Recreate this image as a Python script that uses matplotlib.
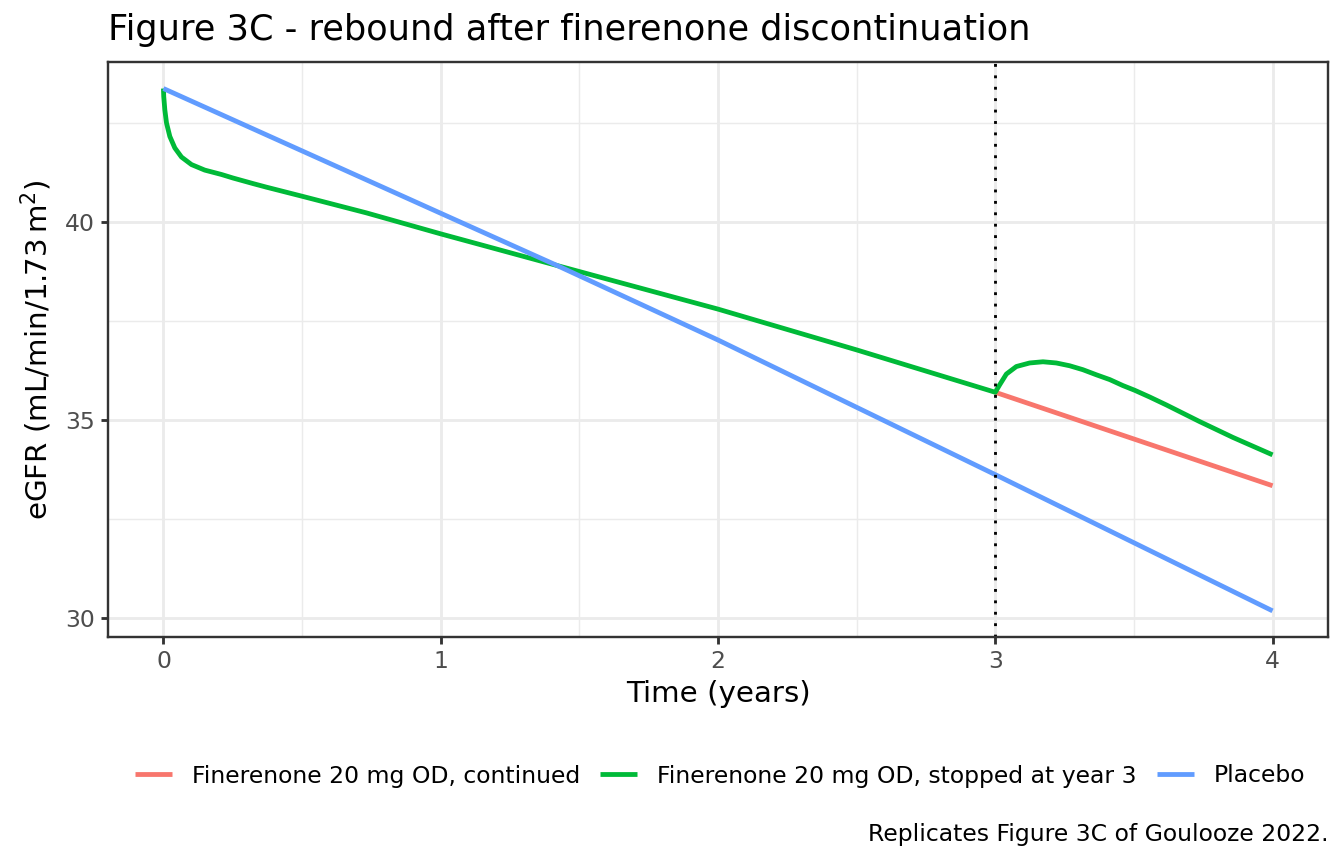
import matplotlib
matplotlib.use("Agg")
import matplotlib.pyplot as plt

# values
time_placebo = [0.0, 1.0, 1.42, 2.0, 3.0, 4.0]
egfr_placebo = [43.37, 40.22, 38.90, 37.02, 33.62, 30.18]

time_stopped = [0.0, 0.001, 0.005, 0.011, 0.023, 0.041, 0.065, 0.101, 0.149, 0.209, 0.251,
                0.323, 0.371, 0.5, 0.732, 1.0, 1.42, 2.0, 2.5, 3.0, 3.016, 3.04, 3.076,
                3.124, 3.172, 3.22, 3.268, 3.316, 3.365, 3.413, 3.46, 3.503, 3.557, 3.617,
                3.737, 3.857, 4.0]
egfr_stopped = [43.37, 43.17, 42.83, 42.50, 42.16, 41.87, 41.64, 41.45, 41.31, 41.20, 41.11,
                40.97, 40.88, 40.65, 40.23, 39.70, 38.90, 37.80, 36.77, 35.70, 35.89, 36.16, 36.35,
                36.44, 36.47, 36.44, 36.37, 36.27, 36.14, 36.02, 35.87, 35.75, 35.58, 35.38,
                34.96, 34.56, 34.12]

time_continued = [3.0, 4.0]
egfr_continued = [35.70, 33.34]

labels = ["Finerenone 20 mg OD, continued",
          "Finerenone 20 mg OD, stopped at year 3",
          "Placebo"]
colors = ["#F8766D", "#00BA38", "#619CFF"]
stop_year = 3

plt.rcParams['font.family'] = ['DejaVu Sans']

fig = plt.figure(figsize=(7, 4.5), dpi=192)
ax = fig.add_axes([108 / 1344, 1 - 637 / 864, (1328 - 108) / 1344, (637 - 62) / 864])

ax.set_xlim(-0.2, 4.2)
ax.set_ylim(29.52, 44.04)

# grid like theme_bw
ax.set_xticks([0, 1, 2, 3, 4])
ax.set_xticks([0.5, 1.5, 2.5, 3.5], minor=True)
ax.set_yticks([30, 35, 40])
ax.set_yticks([32.5, 37.5, 42.5], minor=True)
ax.grid(which="major", color="#EBEBEB", linewidth=1.07)
ax.grid(which="minor", color="#EBEBEB", linewidth=0.53)
ax.set_axisbelow(True)
ax.tick_params(which="major", length=2.75, width=1.07, color="#333333",
               labelcolor="#4D4D4D", labelsize=8.8, pad=2.2)
ax.tick_params(which="minor", length=0)
for s in ax.spines.values():
    s.set_color("#333333")
    s.set_linewidth(0.9)

# groups in the same order ggplot draws them
for t, v, c, lab in [(time_continued, egfr_continued, colors[0], labels[0]),
                     (time_stopped, egfr_stopped, colors[1], labels[1]),
                     (time_placebo, egfr_placebo, colors[2], labels[2])]:
    ax.plot(t, v, color=c, lw=1.8, label=lab, solid_capstyle="butt",
            solid_joinstyle="round")
ax.axvline(stop_year, color="black", lw=1.07, linestyle=(0, (1, 3)))

ax.set_xlabel("Time (years)", fontsize=11, labelpad=2.5)
ax.set_ylabel(r"eGFR (mL/min/1.73$\,$m$^2$)", fontsize=11, labelpad=4)

fig.text(108 / 1344, 1 - 40 / 864, "Figure 3C - rebound after finerenone discontinuation",
         fontsize=13.2, ha="left", va="baseline")

handles, lbls = ax.get_legend_handles_labels()
fig.legend(handles, lbls, loc="center", bbox_to_anchor=(720 / 1344, 1 - 776 / 864),
           ncol=3, frameon=False, fontsize=8.8, handlelength=1.58,
           handletextpad=0.85, columnspacing=0.85)

fig.text(1328 / 1344, 1 - 835 / 864, "Replicates Figure 3C of Goulooze 2022.",
         fontsize=8.8, ha="right", va="center")

fig.savefig("out.png", dpi=192)
